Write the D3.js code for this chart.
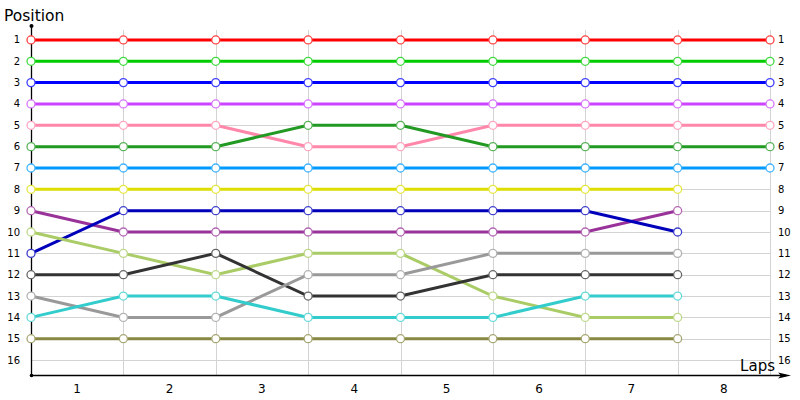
<!DOCTYPE html>
<html>
<head>
<meta charset="utf-8">
<script src="https://cdn.jsdelivr.net/npm/d3@7"></script>
<style>
  html, body { margin: 0; padding: 0; background: #fff; }
  svg { display: block; }
</style>
</head>
<body>
<svg id="chart" width="800" height="400"></svg>
<script>
// ---- Data ----
const laps = ["1", "2", "3", "4", "5", "6", "7", "8"];
const positions = [1, 2, 3, 4, 5, 6, 7, 8, 9, 10, 11, 12, 13, 14, 15, 16];
const seriesColors = ["#ff0000", "#00cc00", "#0000ff", "#cc44ff", "#ff88aa", "#229922", "#0099ff",
                      "#dddd00", "#993399", "#0000bb", "#aacc66", "#333333", "#999999", "#33cccc", "#888844"];
const s1  = [1, 1, 1, 1, 1, 1, 1, 1, 1];
const s2  = [2, 2, 2, 2, 2, 2, 2, 2, 2];
const s3  = [3, 3, 3, 3, 3, 3, 3, 3, 3];
const s4  = [4, 4, 4, 4, 4, 4, 4, 4, 4];
const s5  = [5, 5, 5, 6, 6, 5, 5, 5, 5];
const s6  = [6, 6, 6, 5, 5, 6, 6, 6, 6];
const s7  = [7, 7, 7, 7, 7, 7, 7, 7, 7];
const s8  = [8, 8, 8, 8, 8, 8, 8, 8];
const s9  = [9, 10, 10, 10, 10, 10, 10, 9];
const s10 = [11, 9, 9, 9, 9, 9, 9, 10];
const s11 = [10, 11, 12, 11, 11, 13, 14, 14];
const s12 = [12, 12, 11, 13, 13, 12, 12, 12];
const s13 = [13, 14, 14, 12, 12, 11, 11, 11];
const s14 = [14, 13, 13, 14, 14, 14, 13, 13];
const s15 = [15, 15, 15, 15, 15, 15, 15, 15];
const allSeries = [s1, s2, s3, s4, s5, s6, s7, s8, s9, s10, s11, s12, s13, s14, s15];

// ---- Layout ----
const svg = d3.select("#chart");
const x = d3.scaleLinear().domain([0, laps.length]).range([31, 770]);
const y = d3.scaleLinear().domain([0.3, 16.7]).range([25, 375]);
const fontTick = "'DejaVu Sans', Verdana, sans-serif";

// horizontal grid lines
svg.append("g").selectAll("line").data(positions).join("line")
  .attr("x1", x(0)).attr("x2", x(laps.length))
  .attr("y1", d => Math.round(y(d)) + 0.5).attr("y2", d => Math.round(y(d)) + 0.5)
  .attr("stroke", "#d3d3d3").attr("stroke-width", 1);

// vertical grid lines
svg.append("g").selectAll("line").data(d3.range(1, laps.length + 1)).join("line")
  .attr("x1", d => Math.round(x(d)) + 0.5).attr("x2", d => Math.round(x(d)) + 0.5)
  .attr("y1", 30).attr("y2", y.range()[1])
  .attr("stroke", "#d3d3d3").attr("stroke-width", 1);

// y axis line
svg.append("line")
  .attr("x1", x(0) + 0.5).attr("x2", x(0) + 0.5)
  .attr("y1", 25).attr("y2", 376)
  .attr("stroke", "#000").attr("stroke-width", 1.3);
svg.append("circle").attr("cx", x(0) + 0.5).attr("cy", 26).attr("r", 2).attr("fill", "#000");
svg.append("circle").attr("cx", x(0) + 0.5).attr("cy", 375.5).attr("r", 1.8).attr("fill", "#000");

// x axis line with arrow
svg.append("line")
  .attr("x1", x(0)).attr("x2", 786)
  .attr("y1", 375.5).attr("y2", 375.5)
  .attr("stroke", "#000").attr("stroke-width", 1.3);
svg.append("path")
  .attr("d", "M778,372.5 L791,375.5 L778,378.5 L781,375.5 Z")
  .attr("fill", "#000");

// left & right position labels
svg.append("g").selectAll("text").data(positions).join("text")
  .attr("x", 20).attr("y", d => y(d)).attr("dy", "0.35em")
  .attr("text-anchor", "end")
  .attr("font-family", fontTick).attr("font-size", 10).attr("fill", "#000")
  .text(d => d);
svg.append("g").selectAll("text").data(positions).join("text")
  .attr("x", 778).attr("y", d => y(d)).attr("dy", "0.35em")
  .attr("text-anchor", "start")
  .attr("font-family", fontTick).attr("font-size", 10).attr("fill", "#000")
  .text(d => d);

// lap labels
svg.append("g").selectAll("text").data(laps).join("text")
  .attr("x", (d, i) => x(i + 0.5)).attr("y", 393)
  .attr("text-anchor", "middle")
  .attr("font-family", fontTick).attr("font-size", 12).attr("fill", "#000")
  .text(d => d);

// titles
svg.append("text").attr("x", 4).attr("y", 21)
  .attr("font-family", fontTick).attr("font-size", 15.5).attr("fill", "#000")
  .text("Position");
svg.append("text").attr("x", 775).attr("y", 371)
  .attr("text-anchor", "end")
  .attr("font-family", fontTick).attr("font-size", 15).attr("fill", "#000")
  .text("Laps");

// lines
const line = d3.line().x((d, i) => x(i)).y(d => y(d));
const gSeries = svg.append("g");
allSeries.forEach((s, k) => {
  gSeries.append("path")
    .datum(s)
    .attr("d", line)
    .attr("fill", "none")
    .attr("stroke", seriesColors[k])
    .attr("stroke-width", 3);
});
allSeries.forEach((s, k) => {
  const c = d3.color(seriesColors[k]);
  const light = d3.interpolateRgb(c, "#ffffff")(0.25);
  gSeries.append("g").selectAll("circle").data(s).join("circle")
    .attr("cx", (d, i) => x(i)).attr("cy", d => y(d))
    .attr("r", 4)
    .attr("fill", "#fff")
    .attr("stroke", light)
    .attr("stroke-width", 1.3);
});
</script>
</body>
</html>
